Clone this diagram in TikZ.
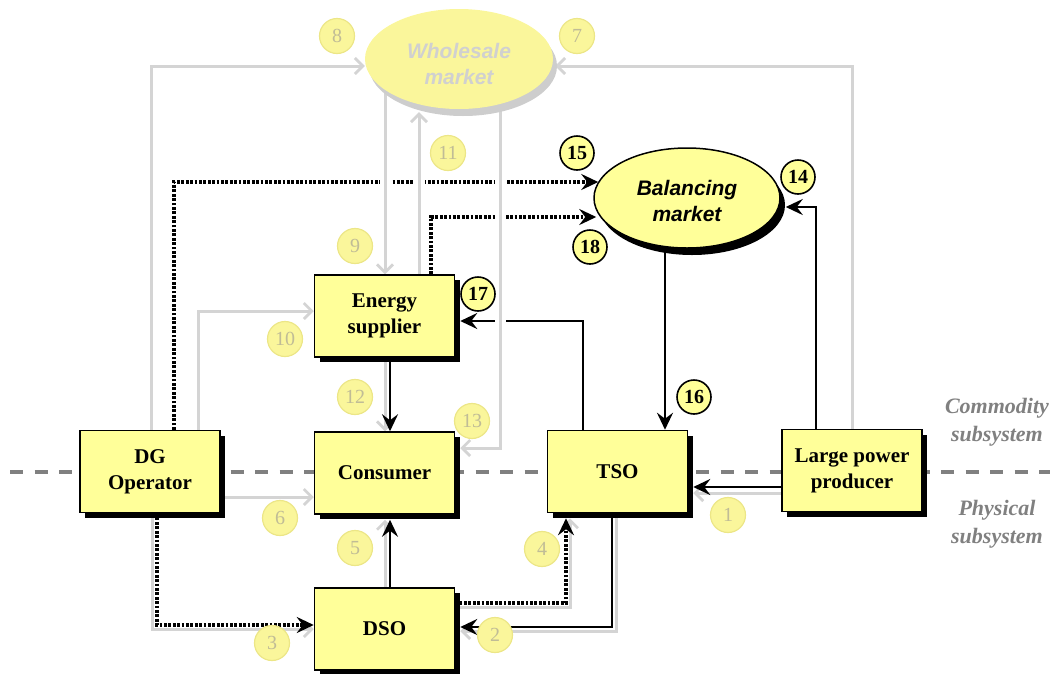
\documentclass[tikz,border=0pt]{standalone}
\usepackage{fontspec}
\setmainfont{Liberation Serif}
\newfontfamily\arialf{Liberation Sans}
\usetikzlibrary{arrows.meta,shadows,shapes.geometric,calc,backgrounds}
\definecolor{boxyellow}{RGB}{255,255,153}
\definecolor{fadeyellow}{RGB}{250,246,155}
\definecolor{fadeborder}{RGB}{236,230,135}
\definecolor{fadetext}{RGB}{192,188,150}
\definecolor{fadeline}{RGB}{212,212,212}
\definecolor{wstext}{RGB}{208,208,208}
\definecolor{wsshadow}{RGB}{205,205,205}
\definecolor{sidegrey}{RGB}{128,128,128}
\begin{document}
\begin{tikzpicture}[x=1pt,y=-1pt,
  box/.style={draw=black,line width=1.5pt,fill=boxyellow,minimum width=140pt,minimum height=82pt,
    inner sep=0pt,align=center,font={\bfseries\fontsize{21}{26}\selectfont},
    drop shadow={shadow xshift=5pt,shadow yshift=-5pt,fill=black,opacity=1}},
  bmell/.style={ellipse,draw=black,line width=1.5pt,fill=boxyellow,minimum width=186pt,minimum height=100pt,
    inner sep=0pt,align=center,font={\arialf\bfseries\itshape\fontsize{21}{26}\selectfont},
    drop shadow={shadow xshift=5pt,shadow yshift=-7pt,fill=black,opacity=1}},
  wsell/.style={ellipse,fill=fadeyellow,minimum width=188pt,minimum height=100pt,
    inner sep=0pt,align=center,text=wstext,font={\arialf\bfseries\itshape\fontsize{21}{26}\selectfont},
    drop shadow={shadow xshift=4pt,shadow yshift=-7pt,fill=wsshadow,opacity=1}},
  nb/.style={circle,draw=black,line width=1.6pt,fill=boxyellow,minimum size=34pt,inner sep=0pt,
    font={\bfseries\fontsize{20}{20}\selectfont}},
  nf/.style={circle,draw=fadeborder,line width=1.2pt,fill=fadeyellow,minimum size=35pt,inner sep=0pt,
    text=fadetext,font={\fontsize{20}{20}\selectfont}},
  side/.style={align=center,text=sidegrey,font={\bfseries\itshape\fontsize{22}{28}\selectfont}},
  gl/.style={draw=fadeline,line width=3pt,-{Straight Barb[length=8pt,width=16pt,line width=2.8pt]}},
  halo/.style={preaction={draw=white,line width=11pt,arrows=-}},
  bl/.style={draw=black,line width=2.6pt,-{Stealth[length=17pt,width=16pt,inset=6pt]}},
  dl/.style={draw=black,line width=3.4pt,dash pattern=on 2.8pt off 1.6pt,-{Stealth[length=17pt,width=16pt,inset=6pt]}},
  dashline/.style={draw=sidegrey,line width=4pt,dash pattern=on 13pt off 11.5pt}
]
\useasboundingbox (0,0) rectangle (1057,673);

% guide columns and rows
\foreach \c in {151,152,157,174,198,385,390,419,431,500,566,570,583,612,616,665,816,852,10,1050}
  {\coordinate (c\c) at (\c,0);}
\foreach \r in {66,182,207,217,311,321,448,472,487,493,497,603,607,625,627,629,631}
  {\coordinate (r\r) at (0,\r);}

% nodes
\node[box] (es)  at (384.5,316) {Energy\\supplier};
\node[box] (con) at (384.5,473) {Consumer};
\node[box] (dg)  at (150,471.5) {DG\\Operator};
\node[box] (tso) at (617.5,471.5) {TSO};
\node[box] (lpp) at (852,470.5) {Large power\\producer};
\node[box] (dso) at (384.5,629) {DSO};
\node[wsell] (ws) at (459,59) {\rule{0pt}{25pt}Wholesale\\market};
\node[bmell] (bm) at (687,198) {\rule{0pt}{21pt}Balancing\\market};

\node[side] (comm) at (997,422) {Commodity\\subsystem};
\node[side] (phys) at (997,524) {Physical\\subsystem};

% number labels
\node[nf] (n1)  at (728,515) {1};
\node[nf] (n2)  at (495,635) {2};
\node[nf] (n3)  at (272,643) {3};
\node[nf] (n4)  at (542,549) {4};
\node[nf] (n5)  at (355,548) {5};
\node[nf] (n6)  at (280,518) {6};
\node[nf] (n7)  at (577,36) {7};
\node[nf] (n8)  at (337,36) {8};
\node[nf] (n9)  at (355,246) {9};
\node[nf] (n10) at (285,339) {10};
\node[nf] (n11) at (448,153) {11};
\node[nf] (n12) at (355,397) {12};
\node[nf] (n13) at (472,421) {13};
\node[nb] (n14) at (798,177) {14};
\node[nb] (n15) at (577,153) {15};
\node[nb] (n16) at (694,397) {16};
\node[nb] (n17) at (478,294) {17};
\node[nb] (n18) at (590,247) {18};

\begin{pgfonlayer}{background}
  % subsystem divider
  \draw[dashline] (c10 |- r472) -- (c1050 |- r472);
  % faded (grey) flows
  \draw[gl] (dg.north -| c151) |- (ws.west |- r66);
  \draw[gl] (lpp.north -| c852) |- ($(ws.east |- r66)+(2,0)$);
  \draw[gl] (dg.north -| c198) |- (es.west |- r311);
  \draw[gl] (es.south -| c385) -- (con.north -| c385);
  \draw[gl] (dg.east |- r497) -- (con.west |- r497);
  \draw[gl] (dso.north -| c385) -- ($(con.south -| c385)+(0,5)$);
  \draw[gl] (dg.south -| c152) |- (dso.west |- r629);
  \draw[gl] (dso.east |- r607) -| ($(tso.south -| c570)+(0,5)$);
  \draw[gl] (tso.south -| c616) |- ($(dso.east |- r631)+(5,0)$);
  \draw[gl] (lpp.west |- r493) -- ($(tso.east |- r493)+(5,0)$);
  % black solid flows
  \draw[bl] (bm.center -| c665) -- (tso.north -| c665);
  \draw[bl] (lpp.north -| c816) |- ($(bm.east |- r207)+(5,0)$);
  \draw[bl] (tso.north -| c583) |- ($(es.east |- r321)+(5,0)$);
  \draw[bl] (es.south -| c390) -- (con.north -| c390);
  \draw[bl] (dso.north -| c390) -- ($(con.south -| c390)+(0,5)$);
  \draw[bl] (lpp.west |- r487) -- ($(tso.east |- r487)+(5,0)$);
  \draw[bl] (tso.south -| c612) |- ($(dso.east |- r627)+(5,0)$);
  % black dotted flows
  \draw[dl] (dg.north -| c174) |- ($(bm.west |- r182)+(5,0)$);
  \draw[dl] (es.north -| c431) |- ($(bm.west |- r217)+(3,0)$);
  \draw[dl] (dg.south -| c157) |- (dso.west |- r625);
  \draw[dl] (dso.east |- r603) -| ($(tso.south -| c566)+(0,5)$);
  % faded flows crossing the black ones
  \draw[gl,halo] (ws.center -| c385) -- (es.north -| c385);
  \draw[gl,halo] (es.north -| c419) -- ($(ws.south -| c419)+(0,3)$);
  \draw[gl,halo] (ws.center -| c500) |- ($(con.east |- r448)+(5,0)$);
\end{pgfonlayer}
\end{tikzpicture}
\end{document}
